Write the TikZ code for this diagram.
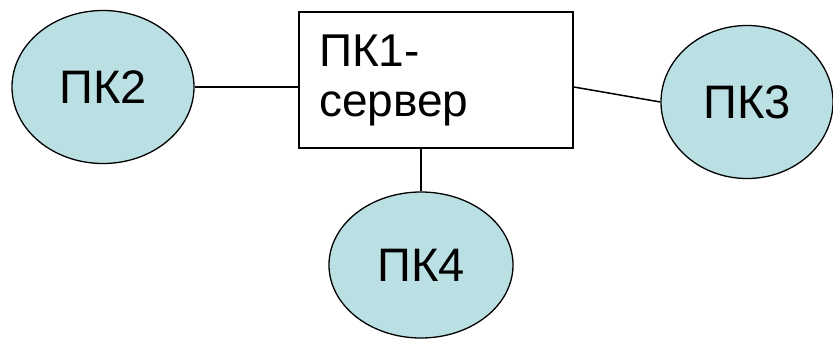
\documentclass[tikz,border=0pt]{standalone}
\usepackage{fontspec}
\setmainfont{Liberation Sans}
\usetikzlibrary{shapes.geometric}
\definecolor{pcfill}{RGB}{187,224,227}
\tikzset{
  pc/.style={ellipse, draw=black, line width=1.3pt, fill=pcfill, inner sep=0pt,
             font=\fontsize{47}{52}\selectfont},
  srvbox/.style={rectangle, draw=black, line width=2pt, fill=white, align=left,
             text width=234pt, inner xsep=20pt, inner ysep=0pt, minimum height=136pt,
             font=\fontsize{46}{50}\selectfont},
  link/.style={draw=black, line width=1.5pt}
}
\begin{document}
\begin{tikzpicture}[x=1pt,y=-1pt]
\useasboundingbox (0,0) rectangle (833,341);
\node[pc, minimum width=182pt, minimum height=153pt] (p2) at (103,87) {ПК2};
\node[pc, minimum width=172pt, minimum height=153pt] (p3) at (747,102) {ПК3};
\node[pc, minimum width=184pt, minimum height=146pt] (p4) at (421,265) {ПК4};
\node[srvbox] (srv) at (436,80) {ПК1-\\сервер};
\draw[link] (p2.east) -- (p2.east -| srv.west);
\draw[link] (srv.east |- p2.east) -- (p3.west);
\draw[link] (srv.south -| p4.north) -- (p4.north);
\end{tikzpicture}
\end{document}
